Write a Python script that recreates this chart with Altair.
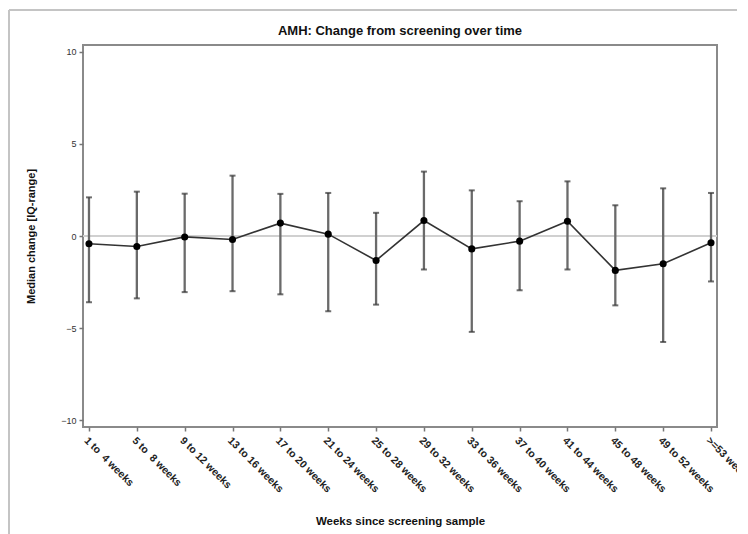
import altair as alt
import pandas as pd

labels = ["1 to\u00a0\u00a04 weeks", "5 to\u00a0\u00a08 weeks", "9 to 12 weeks", "13 to 16 weeks",
          "17 to 20 weeks", "21 to 24 weeks", "25 to 28 weeks", "29 to 32 weeks",
          "33 to 36 weeks", "37 to 40 weeks", "41 to 44 weeks", "45 to 48 weeks",
          "49 to 52 weeks", ">=53 weeks"]
median = [-0.42, -0.57, -0.05, -0.19, 0.70, 0.10, -1.33, 0.84, -0.70, -0.28, 0.80, -1.87, -1.51, -0.37]
q_upper = [2.10, 2.41, 2.30, 3.28, 2.29, 2.34, 1.26, 3.50, 2.48, 1.89, 2.97, 1.67, 2.59, 2.34]
q_lower = [-3.60, -3.39, -3.05, -3.00, -3.17, -4.09, -3.73, -1.82, -5.21, -2.95, -1.82, -3.77, -5.76, -2.47]

df = pd.DataFrame({"label": labels, "median": median, "hi": q_upper, "lo": q_lower})

FONT = "Liberation Sans"

x_enc = alt.X("label:N", sort=labels,
              scale=alt.Scale(type="point", padding=0.125),
              axis=alt.Axis(title="Weeks since screening sample", labelAngle=45,
                            labelFontSize=10.5, labelFontWeight="bold", labelColor="#222",
                            labelPadding=4, tickSize=4, tickColor="#777", tickWidth=1.5,
                            domain=False, titleFontSize=11.5, titleFontWeight="bold",
                            titleColor="#111", titleY=97, titleBaseline="alphabetic"))
y_scale = alt.Scale(domain=[-10.38, 10.38], nice=False, zero=False)
y_enc = alt.Y("median:Q", scale=y_scale,
              axis=alt.Axis(title="Median change [IQ-range]", values=[-10, -5, 0, 5, 10],
                            labelFontSize=9, labelColor="#333", tickSize=4, tickColor="#777",
                            tickWidth=1.5, domain=False, grid=False, labelPadding=3,
                            titleFontSize=11, titleFontWeight="bold", titleColor="#111",
                            titlePadding=24))

base = alt.Chart(df)

zero = base.mark_rule(color="#d0d0d0", strokeWidth=2.2).encode(
    y=alt.datum(0, scale=y_scale), x=alt.value(0), x2=alt.value(634))

whisk = base.mark_rule(color="#6a6a6a", strokeWidth=2.3).encode(
    x=x_enc, y=alt.Y("lo:Q", scale=y_scale), y2="hi:Q")
cap_hi = base.mark_tick(color="#333", orient="horizontal", size=6, thickness=2).encode(
    x=x_enc, y=alt.Y("hi:Q", scale=y_scale))
cap_lo = base.mark_tick(color="#333", orient="horizontal", size=6, thickness=2).encode(
    x=x_enc, y=alt.Y("lo:Q", scale=y_scale))
line = base.mark_line(color="#333", strokeWidth=1.6).encode(x=x_enc, y=y_enc)
pts = base.mark_point(filled=True, color="#000", size=50, opacity=1).encode(x=x_enc, y=y_enc)

frame_top = base.mark_rule(color="#c4c4c4", strokeWidth=2).encode(
    x=alt.value(-74), x2=alt.value(700), y=alt.value(-35))
frame_left = base.mark_rule(color="#c4c4c4", strokeWidth=2).encode(
    x=alt.value(-74), y=alt.value(-35), y2=alt.value(520))

chart = alt.layer(frame_top, frame_left, zero, whisk, cap_hi, cap_lo, line, pts).properties(
    width=634, height=382,
    title=alt.TitleParams("AMH: Change from screening over time", fontSize=13,
                          fontWeight="bold", font=FONT, color="#111", offset=0, dy=29),
    autosize=alt.AutoSizeParams(type="none"),
    padding={"left": 75, "top": 37, "right": 20, "bottom": 110},
).configure(font=FONT, background="white").configure_view(
    stroke="#8a8a8a", strokeWidth=2
).configure_axis(labelFont=FONT, titleFont=FONT)

chart.save("out.html", embed_options={"renderer": "svg", "actions": False})
